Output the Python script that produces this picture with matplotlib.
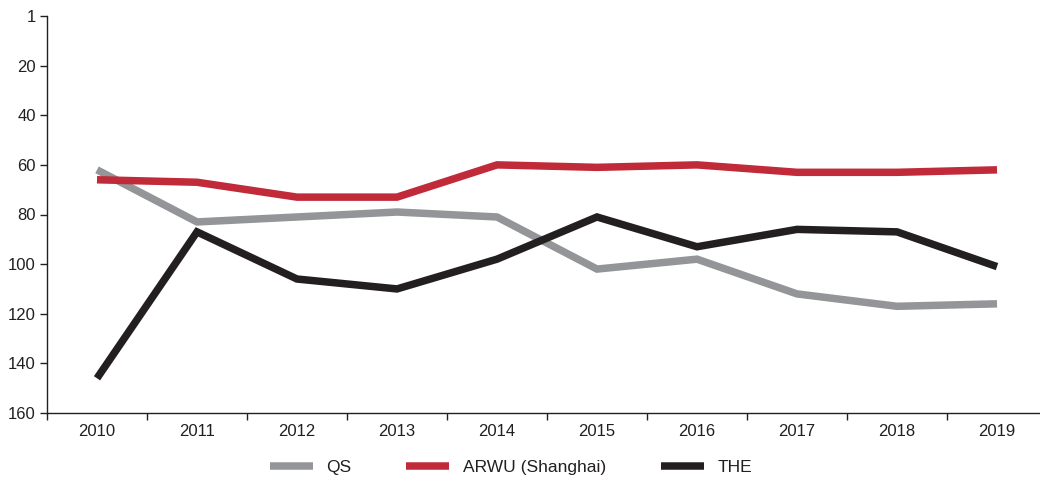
import matplotlib
matplotlib.use('Agg')
import matplotlib.pyplot as plt
import numpy as np

plt.rcParams['font.family'] = ['Liberation Sans', 'DejaVu Sans']

# ranking positions per year (lower = better)
years = ['2010', '2011', '2012', '2013', '2014', '2015', '2016', '2017', '2018', '2019']
qs = [62, 83, 81, 79, 81, 102, 98, 112, 117, 116]
arwu = [66, 67, 73, 73, 60, 61, 60, 63, 63, 62]
the = [146, 87, 106, 110, 98, 81, 93, 86, 87, 101]

ytick_vals = [0, 20, 40, 60, 80, 100, 120, 140, 160]
ytick_labels = ['1', '20', '40', '60', '80', '100', '120', '140', '160']

fig = plt.figure(figsize=(10.4, 4.83), dpi=100)
ax = fig.add_axes([47/1040, 1 - 413/483, 1000/1040, 397/483])

x = np.arange(len(years))
style = dict(lw=5.4, solid_joinstyle='miter', solid_capstyle='butt')
ax.plot(x, qs, color='#939598', label='QS', **style)
ax.plot(x, arwu, color='#C12A38', label='ARWU (Shanghai)', **style)
ax.plot(x, the, color='#231F20', label='THE', **style)

ax.set_xlim(-0.5, len(years) - 0.5)
ax.set_ylim(160, 0)
ax.set_yticks(ytick_vals)
ax.set_yticklabels(ytick_labels)
ax.set_xticks(x)
ax.set_xticklabels(years)
ax.set_xticks(np.arange(len(years) + 1) - 0.5, minor=True)

for s in ['top', 'right']:
    ax.spines[s].set_visible(False)
for s in ['left', 'bottom']:
    ax.spines[s].set_color('#231F20')
    ax.spines[s].set_linewidth(1.0)

ax.tick_params(axis='y', length=5, width=1, color='#231F20', labelsize=12,
               labelcolor='#231F20', pad=3)
ax.tick_params(axis='x', which='major', length=0, labelsize=12,
               labelcolor='#231F20', pad=8)
ax.tick_params(axis='x', which='minor', length=5, width=1, color='#231F20')

fig.legend(loc='center', bbox_to_anchor=(511/1040, 0.033), ncol=3, frameon=False,
           fontsize=12.5, handlelength=2.47, handletextpad=0.8, columnspacing=3.15,
           labelcolor='#231F20')

fig.savefig('out.png', dpi=100, facecolor='white')
